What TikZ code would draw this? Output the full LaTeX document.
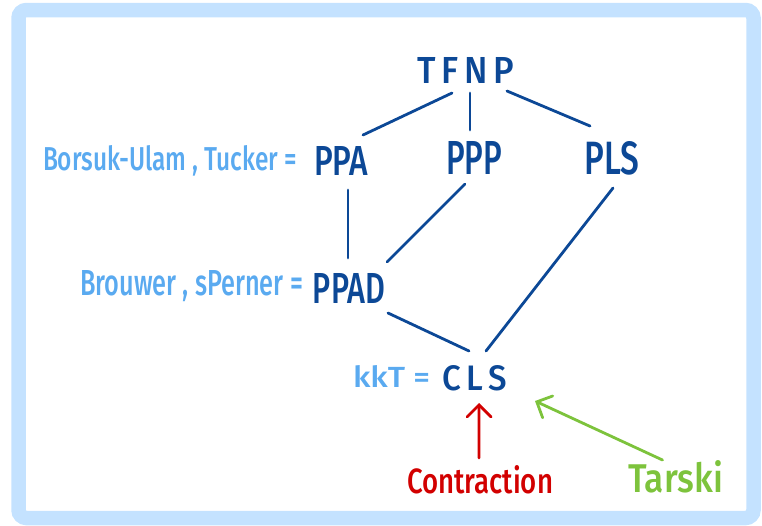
\documentclass[tikz,border=0pt]{standalone}
\usepackage{fontspec}
\setmainfont{Fira Sans}
\newfontfamily\handf{Fira Sans}[UprightFont={* Medium}]
\usetikzlibrary{arrows.meta,calc}
\definecolor{frameblue}{RGB}{196,226,255}
\definecolor{darkblue}{RGB}{12,72,150}
\definecolor{lightblue}{RGB}{90,170,240}
\definecolor{redc}{RGB}{210,0,0}
\definecolor{greenc}{RGB}{125,195,60}
\newcommand{\fitbox}[3]{\resizebox{#1pt}{#2pt}{\handf #3}}
\begin{document}
\begin{tikzpicture}[x=1pt,y=-1pt,
  cls/.style={inner sep=0pt,outer sep=0pt,text=darkblue},
  lab/.style={inner sep=0pt,outer sep=0pt,anchor=base west,text=lightblue},
  edge/.style={draw=darkblue,line width=2.8pt,line cap=round},
  arr/.style={line width=2.8pt,line cap=round,-{Straight Barb[length=12pt,width=24pt,line cap=round]}}]
\useasboundingbox (0,0) rectangle (762,525);
\draw[frameblue,line width=14.5pt,rounded corners=8pt] (18.5,10) rectangle (753.5,518);
% class nodes
\node[cls] (TFNP) at (466,70) {\fitbox{97}{26}{T\,F\,N\,P}};
\node[cls] (PPA) at (341,161) {\fitbox{54}{29}{PPA}};
\node[cls] (PPP) at (474,158) {\fitbox{56}{33}{PPP}};
\node[cls] (PLS) at (612,158) {\fitbox{55}{33}{PLS}};
\node[cls] (PPAD) at (349,288) {\fitbox{72}{30}{PPAD}};
\node[cls] (CLS) at (475,378) {\fitbox{65}{25}{C\,L\,S}};
% labels
\node[lab] (bu) at (43,170) {\fitbox{254}{25}{Borsuk-Ulam , Tucker =}};
\node[lab] (br) at (80,295) {\fitbox{223}{25}{Brouwer , sPerner =}};
\node[lab] (kkt) at (353,387) {\fitbox{77}{22}{kkT =}};
\node[lab,text=redc] (con) at (407,493) {\fitbox{146}{28}{Contraction}};
\node[lab,text=greenc] (tar) at (628,492) {\fitbox{95}{32}{Tarski}};
% edges
\draw[edge] ($(TFNP)+(-14,23)$) -- ($(PPA)+(22,-26)$);
\draw[edge] ($(TFNP)+(4,23)$) -- ($(PPP)+(-4,-28)$);
\draw[edge] ($(TFNP)+(41,21)$) -- ($(PLS)+(-22,-32)$);
\draw[edge] ($(PPA)+(7,29)$) -- ($(PPAD)+(-1,-30)$);
\draw[edge] ($(PPP)+(-9,26)$) -- ($(PPAD)+(38,-26)$);
\draw[edge] ($(PLS)+(1,30)$) -- ($(CLS)+(11,-27)$);
\draw[edge] ($(PPAD)+(39,25)$) -- ($(CLS)+(-6,-27)$);
% arrows
\draw[arr,redc] ($(con.base)+(-1,-35)$) -- ($(CLS)+(4,25)$);
\draw[arr,greenc] ($(tar.base)+(-13,-32)$) -- ($(CLS)+(60,23)$);
\end{tikzpicture}
\end{document}
